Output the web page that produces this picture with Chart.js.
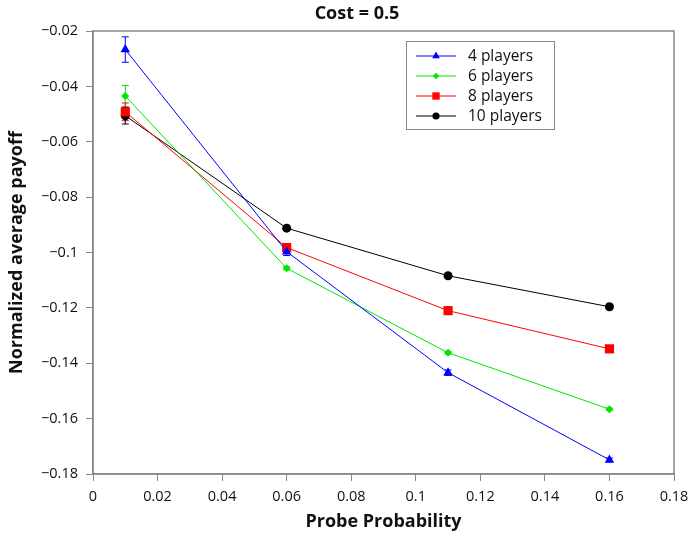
<!DOCTYPE html>
<html lang="en">
    <head>
        <meta charset="UTF-8" />
        <title>Cost = 0.5</title>
        <script src="https://cdn.jsdelivr.net/npm/chart.js"></script>
    </head>
    <body>
        <style>
            body {
                margin: 0;
                background-color: white;
            }
            .chart-container {
                width: 690px;
                height: 536px;
            }
        </style>
        <div class="chart-container">
            <canvas id="chart" width="690" height="536"></canvas>
        </div>
        <script>
            const probeProbability = [0.01, 0.06, 0.11, 0.16];

            const players4 = [-0.0267, -0.0997, -0.1434, -0.1749];
            const players6 = [-0.0435, -0.1057, -0.1362, -0.1566];
            const players8 = [-0.0492, -0.0982, -0.121, -0.1348];
            const players10 = [-0.0506, -0.0912, -0.1084, -0.1196];

            // error bar half-heights
            const err4 = [0.0046, 0.0014, 0.001, 0.0007];
            const err6 = [0.0038, 0.0006, 0.0005, 0.0004];
            const err8 = [0.0032, 0.0006, 0.0004, 0.0004];
            const err10 = [0.003, 0.0005, 0.0004, 0.0004];

            const seriesLabels = ["4 players", "6 players", "8 players", "10 players"];

            const FONT = "'Open Sans', 'DejaVu Sans', sans-serif";

            const toPoints = (ys) =>
                probeProbability.map((x, i) => ({ x: x, y: ys[i] }));

            const fmt = (v) =>
                Number(v.toFixed(2)).toString().replace("-", "\u2212");

            const makeSet = (label, ys, errs, color, style, radius) => ({
                label: label,
                data: toPoints(ys),
                errors: errs,
                borderColor: color,
                backgroundColor: color,
                borderWidth: 1,
                pointStyle: style,
                pointRadius: radius,
                pointHoverRadius: radius,
                pointBorderWidth: 0,
                tension: 0,
            });

            const data = {
                datasets: [
                    makeSet(seriesLabels[0], players4, err4, "#0000ff", "triangle", 5.5),
                    makeSet(seriesLabels[1], players6, err6, "#00e600", "rectRot", 4),
                    makeSet(seriesLabels[2], players8, err8, "#ff0000", "rect", 6.5),
                    makeSet(seriesLabels[3], players10, err10, "#000000", "circle", 4.5),
                ],
            };

            // error bars, frame, legend and title
            const extras = {
                id: "extras",
                beforeDatasetsDraw(chart) {
                    const ctx = chart.ctx;
                    const xs = chart.scales.x;
                    const ys = chart.scales.y;
                    ctx.save();
                    chart.data.datasets.forEach((ds) => {
                        ctx.strokeStyle = ds.borderColor;
                        ctx.lineWidth = 1;
                        ds.data.forEach((p, i) => {
                            const e = ds.errors[i];
                            const px = xs.getPixelForValue(p.x);
                            const top = ys.getPixelForValue(p.y + e);
                            const bot = ys.getPixelForValue(p.y - e);
                            ctx.beginPath();
                            ctx.moveTo(px, top);
                            ctx.lineTo(px, bot);
                            ctx.moveTo(px - 3.5, top);
                            ctx.lineTo(px + 3.5, top);
                            ctx.moveTo(px - 3.5, bot);
                            ctx.lineTo(px + 3.5, bot);
                            ctx.stroke();
                        });
                    });
                    ctx.restore();
                },
                afterDraw(chart) {
                    const ctx = chart.ctx;
                    const a = chart.chartArea;
                    ctx.save();
                    ctx.strokeStyle = "#888888";
                    ctx.lineWidth = 1.5;
                    ctx.strokeRect(a.left, a.top, a.right - a.left, a.bottom - a.top);

                    // title
                    ctx.fillStyle = "#111111";
                    ctx.font = "bold 18px " + FONT;
                    ctx.textAlign = "center";
                    ctx.textBaseline = "middle";
                    ctx.fillText("Cost = 0.5", 357, 14);

                    // legend
                    ctx.fillStyle = "#ffffff";
                    ctx.fillRect(406, 41, 148, 88);
                    ctx.strokeStyle = "#888888";
                    ctx.lineWidth = 1;
                    ctx.strokeRect(406.5, 41.5, 148, 88);
                    ctx.font = "15.5px " + FONT;
                    ctx.textAlign = "left";
                    chart.data.datasets.forEach((ds, i) => {
                        const y = 56 + i * 20;
                        ctx.strokeStyle = ds.borderColor;
                        ctx.beginPath();
                        ctx.moveTo(416, y);
                        ctx.lineTo(456, y);
                        ctx.stroke();
                        ctx.fillStyle = ds.backgroundColor;
                        Chart.helpers.drawPoint(
                            ctx,
                            { pointStyle: ds.pointStyle, radius: ds.pointRadius * 0.8, rotation: 0, borderWidth: 0 },
                            436,
                            y
                        );
                        ctx.fillStyle = "#111111";
                        ctx.fillText(ds.label, 468, y + 1);
                    });
                    ctx.restore();
                },
            };

            const tickFont = { family: FONT, size: 14.5 };
            const titleFont = { family: FONT, size: 18, weight: "bold" };

            new Chart("chart", {
                type: "line",
                data: data,
                plugins: [extras],
                options: {
                    responsive: false,
                    animation: false,
                    layout: { padding: { top: 31, right: 16, left: 0, bottom: 0 } },
                    plugins: {
                        legend: { display: false },
                        title: { display: false },
                        tooltip: { enabled: false },
                    },
                    scales: {
                        x: {
                            type: "linear",
                            min: 0,
                            max: 0.18,
                            afterFit: (s) => {
                                s.height = 62;
                                s.paddingLeft = 0;
                                s.paddingRight = 0;
                            },
                            ticks: {
                                stepSize: 0.02,
                                color: "#111111",
                                font: tickFont,
                                padding: 7,
                                maxRotation: 0,
                                callback: (v) => fmt(v),
                            },
                            grid: {
                                drawOnChartArea: false,
                                drawTicks: true,
                                tickLength: 7,
                                color: "#888888",
                            },
                            border: { color: "#888888", width: 1.5 },
                            title: {
                                display: true,
                                text: "Probe Probability",
                                color: "#111111",
                                font: titleFont,
                                padding: { top: 0, bottom: 3 },
                            },
                        },
                        y: {
                            type: "linear",
                            min: -0.18,
                            max: -0.02,
                            afterFit: (s) => {
                                s.width = 93;
                                s.paddingTop = 0;
                                s.paddingBottom = 0;
                            },
                            ticks: {
                                stepSize: 0.02,
                                color: "#111111",
                                font: tickFont,
                                padding: 8,
                                callback: (v) => fmt(v),
                            },
                            grid: {
                                drawOnChartArea: false,
                                drawTicks: true,
                                tickLength: 7,
                                color: "#888888",
                            },
                            border: { color: "#888888", width: 1.5 },
                            title: {
                                display: true,
                                text: "Normalized average payoff",
                                color: "#111111",
                                font: titleFont,
                                padding: { top: 6, bottom: 0 },
                            },
                        },
                    },
                },
            });
        </script>
    </body>
</html>
